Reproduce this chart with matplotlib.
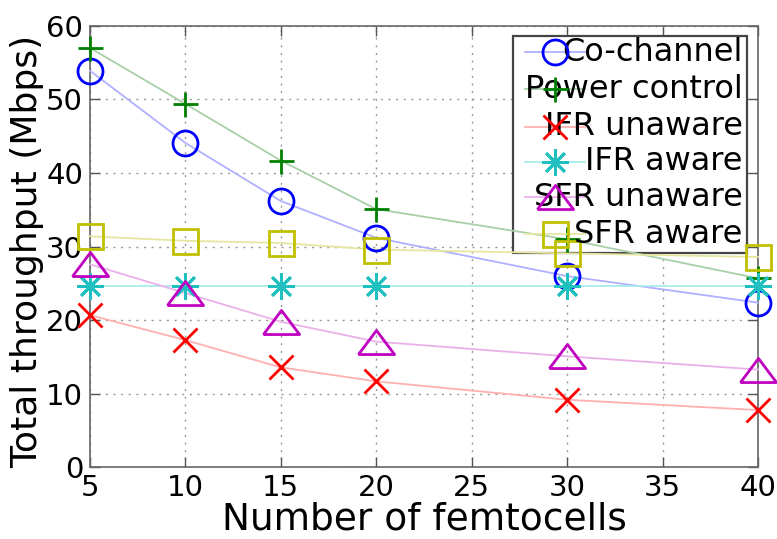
import matplotlib
matplotlib.use("Agg")
import matplotlib.pyplot as plt
from matplotlib.patches import Rectangle
from matplotlib.lines import Line2D

x_vals = [5, 10, 15, 20, 30, 40]
co_channel = [53.9, 44.1, 36.2, 31.2, 26.0, 22.4]
power_control = [57.0, 49.4, 41.7, 35.1, 31.0, 25.7]
ifr_unaware = [20.7, 17.3, 13.6, 11.7, 9.2, 7.8]
ifr_aware = [24.6, 24.6, 24.6, 24.6, 24.6, 24.6]
sfr_unaware = [27.6, 23.7, 19.8, 17.1, 15.1, 13.3]
sfr_aware = [31.4, 30.8, 30.5, 29.6, 29.1, 28.6]

labels = ["Co-channel", "Power control", "IFR unaware", "IFR aware",
          "SFR unaware", "SFR aware"]
series = [co_channel, power_control, ifr_unaware, ifr_aware, sfr_unaware, sfr_aware]
colors = ["#0000ff", "#008000", "#ff0000", "#20c0c0", "#c000c0", "#c0c000"]
line_colors = ["#b0b0ff", "#a8d0a8", "#ffb0b0", "#a8ecec", "#eab0ea", "#e6e6a0"]

tri = [(-1.5, -1.0), (1.5, -1.0), (0.0, 1.0), (-1.5, -1.0)]
markers = ["o", "+", "x", (8, 2, 0), tri, "s"]
msizes = [18, 18, 17, 19, 26, 18]
open_marker = [True, False, False, False, True, True]

xticks = [5, 10, 15, 20, 25, 30, 35, 40]
yticks = [0, 10, 20, 30, 40, 50, 60]

plt.rcParams['font.family'] = ['DejaVu Sans']
fig = plt.figure(figsize=(7.77, 5.39), dpi=100)
ax = fig.add_axes([0.1158, 0.1327, 0.8597, 0.8193])


def mkw(c, is_open):
    if is_open:
        return dict(markerfacecolor='none', markeredgecolor=c, markeredgewidth=2.0)
    return dict(color=c, markeredgewidth=2.0)


for ys, c, lc, m, ms, op in zip(series, colors, line_colors, markers, msizes, open_marker):
    ax.plot(x_vals, ys, '-', color=lc, lw=1.3, zorder=3, clip_on=False)
    ax.plot(x_vals, ys, linestyle='none', marker=m, markersize=ms, zorder=4,
            clip_on=False, **mkw(c, op))

ax.set_xlim(5, 40)
ax.set_ylim(0, 60)
ax.set_xticks(xticks)
ax.set_yticks(yticks)
ax.tick_params(direction='in', length=7, width=1, colors='#555555',
               labelcolor='black', labelsize=21, top=True, right=True, pad=5)
ax.grid(True, linestyle=(0, (1.5, 4)), color='#999999', lw=1)
ax.set_axisbelow(True)
for s in ax.spines.values():
    s.set_color('#666666')
    s.set_linewidth(1.2)

ax.set_xlabel("Number of femtocells", fontsize=27)
ax.xaxis.set_label_coords(0.5, -0.076)
ax.set_ylabel("Total throughput (Mbps)", fontsize=26)
ax.yaxis.set_label_coords(-0.068, 0.49)

# legend drawn manually (text right-aligned, sample overlapping text)
box = Rectangle((0.633, 0.486), 0.350, 0.490, transform=ax.transAxes,
                facecolor='white', edgecolor='#444444', lw=1.6, zorder=2)
ax.add_patch(box)
row_y = [0.940, 0.856, 0.772, 0.692, 0.612, 0.528]
for lab, c, lc, m, ms, op, yy in zip(labels, colors, line_colors, markers, msizes,
                                     open_marker, row_y):
    ax.add_line(Line2D([0.651, 0.741], [yy, yy], transform=ax.transAxes,
                       color=lc, lw=1.3, zorder=5))
    ax.text(0.977, yy, lab, transform=ax.transAxes, ha='right', va='center',
            fontsize=23, zorder=6)
    ax.add_line(Line2D([0.696], [yy], transform=ax.transAxes, marker=m,
                       markersize=ms, linestyle='none', zorder=7, **mkw(c, op)))

fig.savefig("out.png", dpi=100)
